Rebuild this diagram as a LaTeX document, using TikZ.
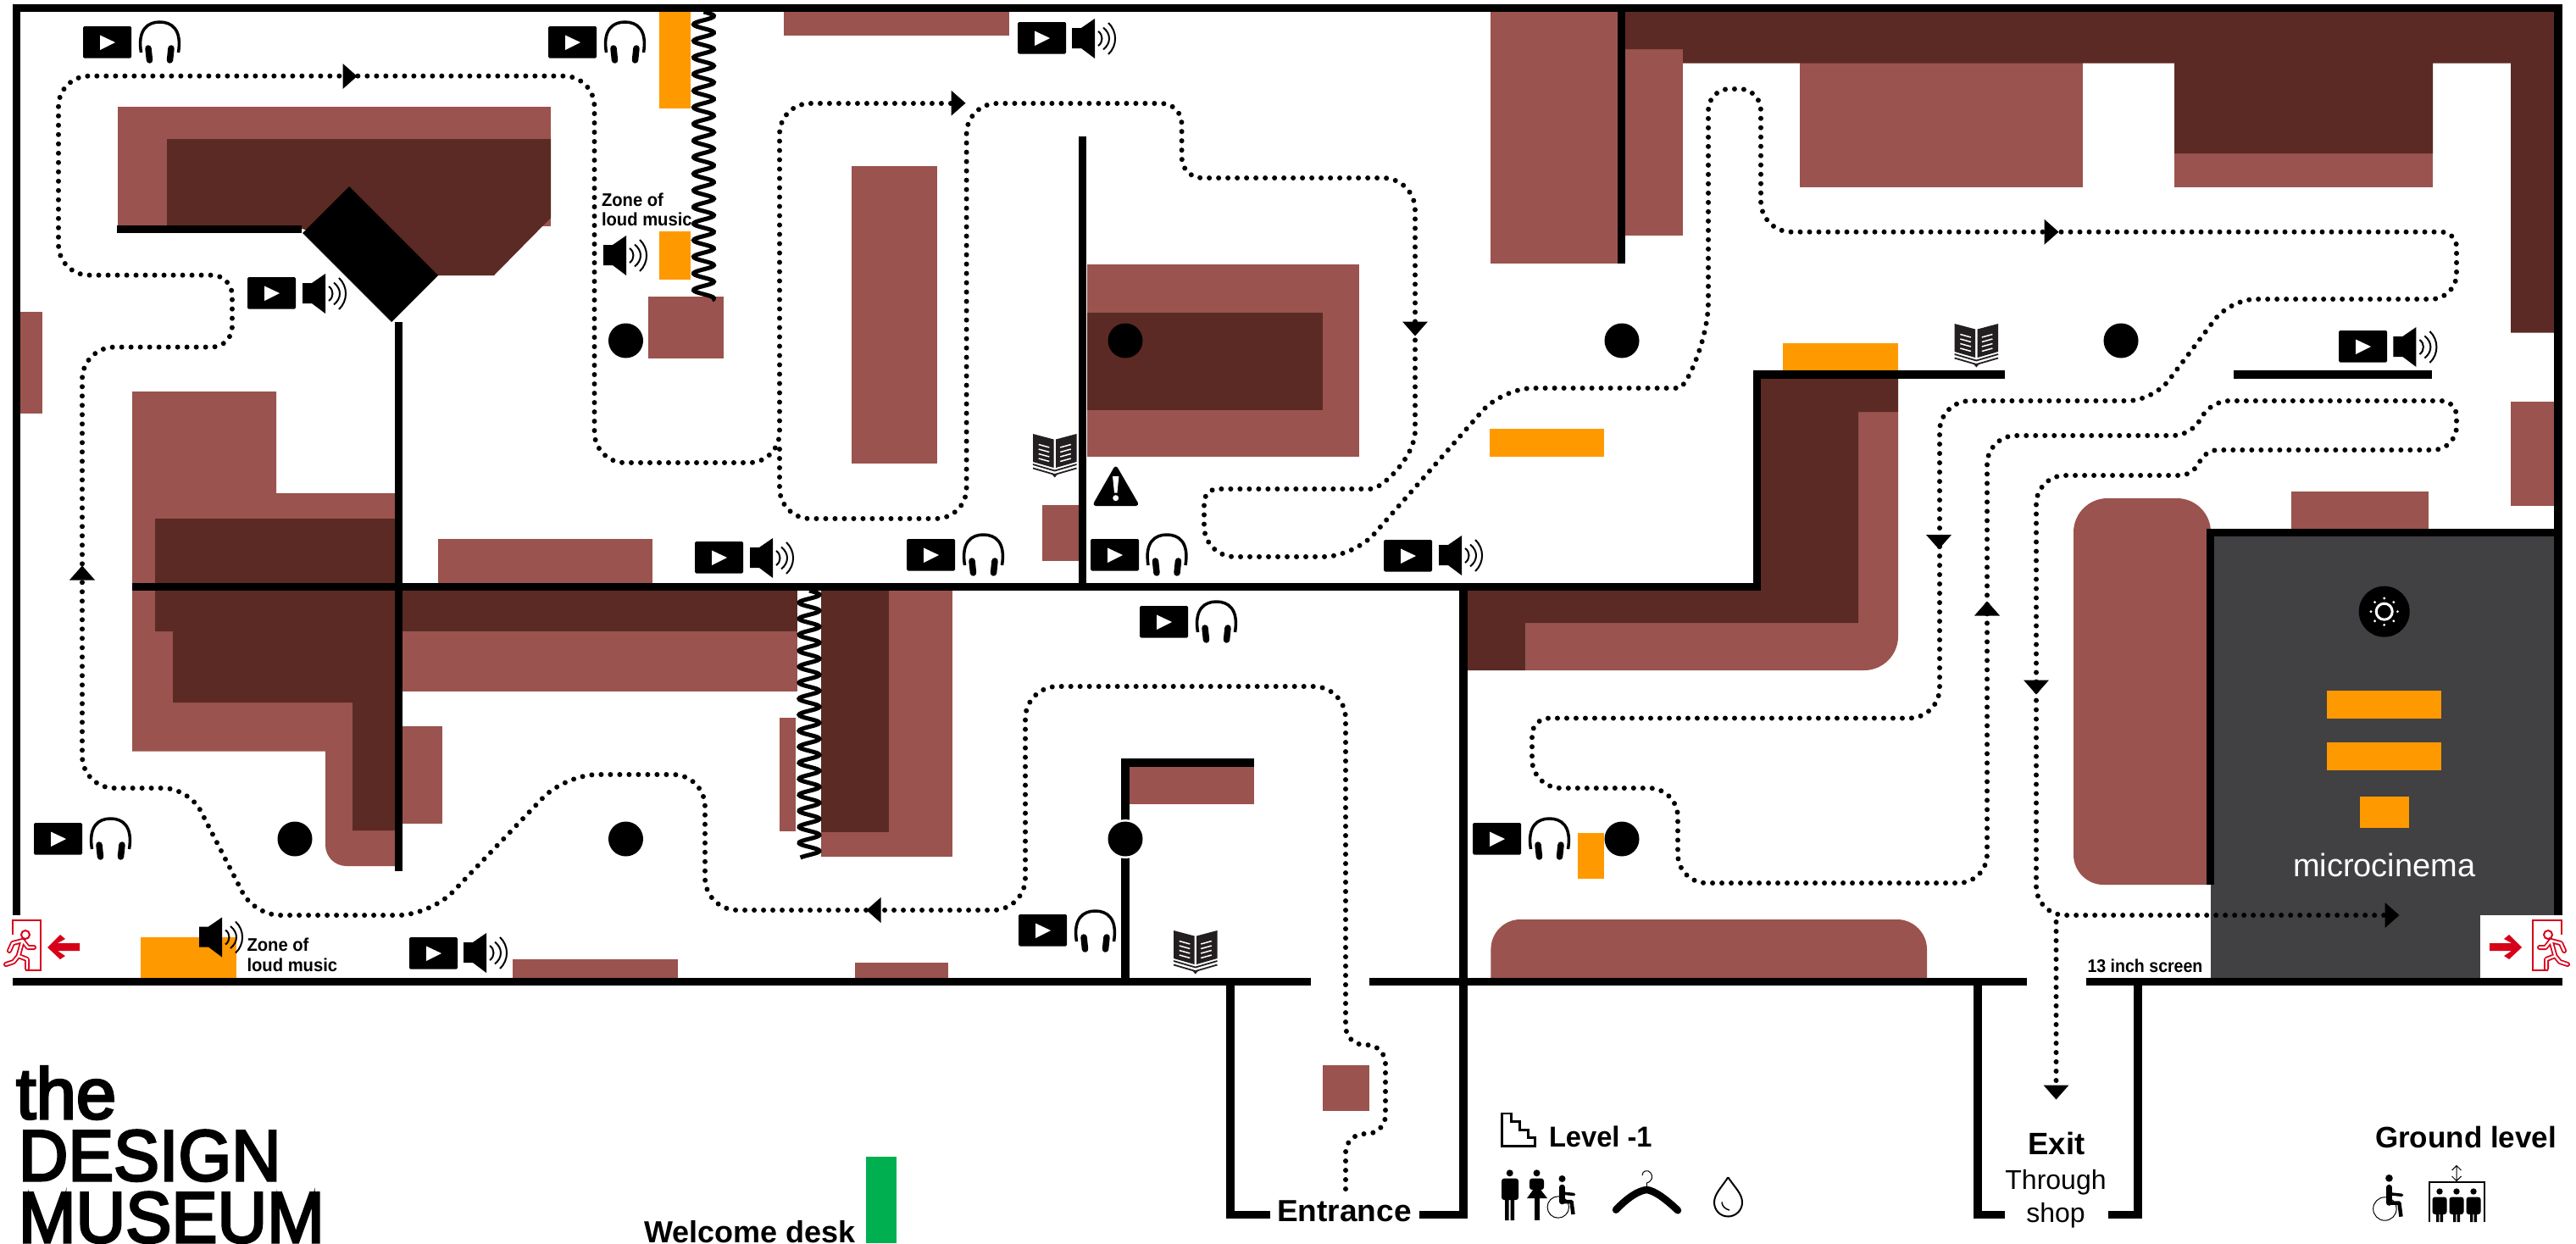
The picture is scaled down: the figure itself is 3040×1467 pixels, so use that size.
\documentclass[tikz,border=0pt]{standalone}
\usepackage{fontspec}
\usepackage{graphicx}
\setmainfont{Liberation Sans}
\newfontfamily\logof[FakeBold=3.5]{Liberation Sans}
\definecolor{lightb}{HTML}{9A534E}
\definecolor{darkb}{HTML}{5C2A24}
\definecolor{orng}{HTML}{FF9900}
\definecolor{roomg}{HTML}{414042}
\definecolor{grn}{HTML}{00B050}
\definecolor{exitr}{HTML}{D7001A}
\definecolor{bookc}{HTML}{231F20}
\newcommand{\hsc}[2]{\scalebox{#1}[1]{#2}}
\newcommand{\fsz}[1]{\fontsize{#1}{#1}\selectfont}
\tikzset{
 wall/.style={line width=9.5pt,line join=miter,line cap=butt},
 route/.style={line width=6pt,line cap=round,dash pattern=on 0pt off 11pt},
 lbl/.style={inner sep=0pt,outer sep=0pt,anchor=base west},
 lblc/.style={inner sep=0pt,outer sep=0pt,anchor=base},
 play/.pic={\fill[rounded corners=1.5pt] (0,0) rectangle (57,37.5);
   \fill[white] (20,10.5) -- (38,19) -- (20,28) -- cycle;},
 phones/.pic={\draw[line width=3.5pt] (3.5,38) .. controls (-1,10) and (12,2) .. (25.5,2) .. controls (39,2) and (52,10) .. (47.5,38);
   \draw[line width=7.5pt,line cap=round] (12,33) -- (13.5,47) (39,33) -- (37.5,47);},
 spk/.pic={\fill (0,11) -- (11,11) -- (27,0) -- (27,47) -- (11,35) -- (0,35) -- cycle;
   \draw[line width=2pt] (31,15) .. controls (37,19) and (37,28) .. (31,32)
     (37,10.5) .. controls (46.3,18) and (46.3,29) .. (37,36.5)
     (43,5) .. controls (53.7,15) and (53.7,32) .. (43,42);},
 tip/.pic={\fill (-8.5,-15) -- (8.5,0) -- (-8.5,15) -- cycle;},
 bookicon/.pic={\fill[bookc] (0,0) -- (24.5,6.5) -- (24.5,40) -- (0,33) -- cycle (27,6.5) -- (51.5,0) -- (51.5,33) -- (27,40) -- cycle;
   \draw[bookc,line width=1.8pt] (0,36) -- (25.7,43.5) -- (51.5,36) (0,40.5) -- (25.7,48) -- (51.5,40.5);
   \fill[bookc] (22,47) -- (25.7,51.5) -- (29.5,47) -- cycle;
   \draw[white,line width=1.5pt] (6.7,12.5) -- (19.3,16) (6.7,18) -- (19.3,21.5) (6.7,23.5) -- (19.3,27) (6.7,29) -- (19.3,32.5)
     (32.2,16) -- (44.8,12.5) (32.2,21.5) -- (44.8,18) (32.2,27) -- (44.8,23.5) (32.2,32.5) -- (44.8,29);},
 chair/.pic={\fill (18,4) circle[radius=4];
   \draw[line width=6.5pt,line cap=round] (18,14) -- (18,31);
   \draw[line width=4.5pt,line join=round] (18,31) -- (29,31) -- (31,46);
   \draw[line width=3.5pt,line cap=round] (18,21) -- (32,22.5);
   \draw[line width=1pt] (13.3,37.5) circle[radius=12.7];},
 exitman/.pic={\draw[exitr,line width=2pt] (14.5,28) -- (14.5,11) -- (48,11) -- (48,70) -- (30,70);
   \draw[exitr,line width=2pt] (30,28) circle[radius=5];
   \draw[exitr,line width=6pt,line cap=round,line join=round] (26.7,35) -- (21.7,53) (26.7,35) -- (15,38) -- (11,47) (26.7,35) -- (33,43) -- (40,43) (21.7,53) -- (32,57) -- (32,68) (21.7,53) -- (16,60) -- (7,63);
   \draw[white,line width=2.4pt,line cap=round,line join=round] (26.7,35) -- (21.7,53) (26.7,35) -- (15,38) -- (11,47) (26.7,35) -- (33,43) -- (40,43) (21.7,53) -- (32,57) -- (32,68) (21.7,53) -- (16,60) -- (7,63);},
 exitarrow/.pic={\fill[exitr] (0,0) -- (15,-15) -- (21,-10) -- (12,-5) -- (38,-5) -- (38,4) -- (12,4) -- (21,10) -- (15,14) -- cycle;},
}
\begin{document}
\begin{tikzpicture}[x=1pt,y=-1pt]
\useasboundingbox (0,0) rectangle (3040,1467);
\fill[white] (0,0) rectangle (3040,1467);
% --- gray room
\fill[roomg] (2609,629) rectangle (3016,1154);
\fill[white] (2927,1080) rectangle (3024,1153.5);
% --- light furniture
\fill[lightb] (139,126) rectangle (650,267);
\fill[lightb] (925,14) rectangle (1191,42);
\fill[lightb] (24,368) rectangle (50,488);
\fill[lightb] (156,462) -- (326,462) -- (326,582) -- (466,582) -- (466,1022) -- (409,1022) .. controls (395,1022) and (384,1011) .. (384,997) -- (384,886.5) -- (156,886.5) -- cycle;
\fill[lightb] (517,636) rectangle (770,688);
\fill[lightb] (475,745) rectangle (941,815.5);
\fill[lightb] (475,857) rectangle (522,972);
\fill[lightb] (920,847) rectangle (939,981);
\fill[lightb] (969,697) rectangle (1124,1010.6);
\fill[lightb] (765,350) rectangle (854,423);
\fill[lightb] (1004.6,196) rectangle (1106,546.5);
\fill[lightb] (1229.5,596) rectangle (1272.6,661.6);
\fill[lightb] (1282.5,312) rectangle (1603.6,538.5);
\fill[lightb] (1759,14) rectangle (1909,310.5);
\fill[lightb] (1918,58) rectangle (1986,278);
\fill[lightb] (2123.5,74) rectangle (2458,221);
\fill[lightb] (2566,181) rectangle (2871,221);
\fill[lightb] (2963,474) rectangle (3014.5,596.5);
\fill[lightb] (2704,580) rectangle (2866,624);
\fill[lightb] (605,1132) rectangle (800,1154);
\fill[lightb] (1009,1136) rectangle (1119,1154);
\fill[lightb] (1333,905) rectangle (1479.5,948.6);
\fill[lightb] (1560.5,1257) rectangle (1615.5,1311);
\fill[lightb] (2193,486) -- (2240,486) -- (2240,751) .. controls (2240,773) and (2222,791) .. (2200,791) -- (1800.5,791) -- (1800.5,735) -- (2193,735) -- cycle;
\fill[lightb] (2447,628) .. controls (2447,606) and (2465,588) .. (2487,588) -- (2569,588) .. controls (2591,588) and (2609,606) .. (2609,628) -- (2609,1044) -- (2482,1044) .. controls (2463,1044) and (2447,1028) .. (2447,1009) -- cycle;
\fill[lightb] (1759.4,1154) -- (1759.4,1120) .. controls (1759.4,1101) and (1775,1085) .. (1794,1085) -- (2239,1085) .. controls (2258,1085) and (2274,1101) .. (2274,1120) -- (2274,1154) -- cycle;
% --- dark furniture
\fill[darkb] (197,164) -- (650,164) -- (650,257) -- (583,325) -- (517,325) -- (357,270) -- (197,270) -- cycle;
\fill[darkb] (183,612) -- (466,612) -- (466,980) -- (416,980) -- (416,829) -- (204,829) -- (204,745) -- (183,745) -- cycle;
\fill[darkb] (475,697) rectangle (941,745);
\fill[darkb] (969,697) rectangle (1049,982);
\fill[darkb] (1282.5,369) rectangle (1560.5,484);
\fill[darkb] (1918,14) -- (3014.5,14) -- (3014.5,392.6) -- (2963,392.6) -- (2963,74.6) -- (2871,74.6) -- (2871,181) -- (2566,181) -- (2566,74.6) -- (1986,74.6) -- (1986,58) -- (1918,58) -- cycle;
\fill[darkb] (1731,697) -- (2078,697) -- (2078,446) -- (2240,446) -- (2240,486) -- (2193,486) -- (2193,735) -- (1800.5,735) -- (1800.5,791) -- (1731,791) -- cycle;
% --- orange and green
\fill[orng] (778,14) rectangle (815,128);
\fill[orng] (778,273) rectangle (815,330);
\fill[orng] (166,1106) rectangle (279,1154);
\fill[orng] (1758,506) rectangle (1893,538.5);
\fill[orng] (2104.4,405) rectangle (2240,437.5);
\fill[orng] (1862,983) rectangle (1893.4,1036.5);
\fill[orng] (2746,815) rectangle (2881,847.5);
\fill[orng] (2746,876) rectangle (2881,909);
\fill[orng] (2785,940) rectangle (2843,977);
\fill[grn] (1022,1365) rectangle (1058,1467);
% --- walls
\fill (412,220) -- (517,325) -- (462,380) -- (357,275) -- cycle;
\draw[wall] (19.5,1080) -- (19.5,9.5) -- (3019,9.5) -- (3019,1080);
\draw[wall] (15,1158.5) -- (1547,1158.5);
\draw[wall] (1615.5,1158.5) -- (2392,1158.5);
\draw[wall] (2462,1158.5) -- (3024,1158.5);
\draw[wall] (156,692.5) -- (2073.5,692.5) -- (2073.5,442) -- (2366,442);
\draw[wall] (2636,442) -- (2870,442);
\draw[wall] (138,270.5) -- (356,270.5);
\draw[wall] (470.5,380) -- (470.5,1028);
\draw[wall] (1277.5,161) -- (1277.5,692);
\draw[wall] (1913.5,14) -- (1913.5,310.5);
\draw[wall] (2608.5,1044) -- (2608.5,628.5) -- (3014,628.5);
\draw[wall] (1479.5,900) -- (1328,900) -- (1328,1154);
\draw[wall] (1499,1433.5) -- (1452,1433.5) -- (1452,1154);
\draw[wall] (1675,1433.5) -- (1727,1433.5) -- (1727,692);
\draw[wall] (2366,1433.5) -- (2334,1433.5) -- (2334,1154);
\draw[wall] (2488,1433.5) -- (2523,1433.5) -- (2523,1154);
% --- coils
\draw[line width=5pt] plot[domain=14:354,samples=300,smooth] ({830.5+12*sin((\x-14)/19.6*360)},\x);
\draw[line width=5pt] plot[domain=697:1012,samples=300,smooth] ({955+12*sin((\x-697)/18.9*360)},\x);
% --- columns
\fill[white] (1328,990) circle[radius=23];
\foreach \p in {(738.5,402),(1328,402),(1914,402),(2503,402),(348,990),(738.5,990),(1328,990),(1914,990)} \fill \p circle[radius=20.5];
% --- route
\draw[route,rounded corners=22pt] (1588,1403) -- (1588,1338) -- (1635,1338) -- (1635,1233) -- (1588,1233) [rounded corners=38pt] -- (1588,810) -- (1210,810) -- (1210,1074) -- (832,1074) -- (832,914) -- (667,914) -- (508,1080) [rounded corners=30pt] -- (300,1080) -- (223,930) [rounded corners=38pt] -- (97,930) -- (97,409.6) [rounded corners=24pt] -- (274,409.6) -- (274,324.7) [rounded corners=36pt] -- (69,324.7) -- (69,89.7) -- (701.5,89.7) -- (701.5,546) -- (920,546) -- (920,122) -- (1126,122);
\draw[route,rounded corners=36pt] (920,530) -- (920,612) -- (1140.6,612) -- (1140.6,122) [rounded corners=24pt] -- (1394.6,122) -- (1394.6,210) [rounded corners=38pt] -- (1670,210) -- (1670,470) .. controls (1670,540) and (1630,577) .. (1580,577) [rounded corners=16pt] -- (1421,577) [rounded corners=36pt] -- (1421,657) -- (1598,657) -- (1773,458) -- (1945,458) .. controls (1990,458) and (2016,400) .. (2016,320) [rounded corners=25pt] -- (2016,105) -- (2078,105) [rounded corners=36pt] -- (2078,273.7) [rounded corners=18pt] -- (2899,273.7) [rounded corners=30pt] -- (2899,353) -- (2632,353) -- (2541,473) [rounded corners=36pt] -- (2289,473) -- (2289,847.5) [rounded corners=20pt] -- (1808,847.5) [rounded corners=34pt] -- (1808,930) -- (1980,930) -- (1980,1042) -- (2345,1042) -- (2345,514) [rounded corners=20pt] -- (2585,514) -- (2610,473) [rounded corners=18pt] -- (2899,473) [rounded corners=28pt] -- (2899,531) [rounded corners=12pt] -- (2605,531) -- (2585,561) [rounded corners=34pt] -- (2403,561) -- (2403,1080) -- (2815,1080);
\draw[route] (2426.5,1088) -- (2426.5,1280);
\pic[rotate=0] at (413,90) {tip};
\pic[rotate=0] at (1131,121.7) {tip};
\pic[rotate=0] at (2421,273.7) {tip};
\pic[rotate=0] at (2823,1080) {tip};
\pic[rotate=180] at (1031,1074) {tip};
\pic[rotate=90] at (97,676) {tip};
\pic[rotate=90] at (2345,718) {tip};
\pic[rotate=-90] at (1670,388) {tip};
\pic[rotate=-90] at (2288,639.5) {tip};
\pic[rotate=-90] at (2403,811) {tip};
\pic[rotate=-90] at (2426.5,1289) {tip};
% --- media icons
\foreach \a/\b/\c/\d in {98/31/163/24,647/31/712/24,1070/636/1135/629,1287/636/1351.5/629,1345/715/1410/708,40/971/105/964,1738/971/1803/964,1202/1079/1267/1073}
 {\pic at (\a,\b) {play}; \pic at (\c,\d) {phones};}
\foreach \a/\b/\c/\d in {292/327/357/323,820/639/885/635,1201/26/1265/22,1633/637/1698/632,2760/390/2824.4/386,483/1106/547/1101}
 {\pic at (\a,\b) {play}; \pic at (\c,\d) {spk};}
\pic at (712,278) {spk};
\pic at (235,1082.5) {spk};
\pic at (1219,512) {bookicon};
\pic at (2306.6,382) {bookicon};
\pic at (1385,1098) {bookicon};
% --- warning
\fill[line join=round,draw=black,line width=5pt] (1316.7,553) -- (1293,594.5) -- (1340.7,594.5) -- cycle;
\fill[white] (1313,562) -- (1320.4,562) -- (1318.5,581.5) -- (1315,581.5) -- cycle (1316.7,587.7) circle[radius=3.5];
% --- sun
\fill (2813.7,721.7) circle[radius=30];
\draw[white,line width=3pt] (2813.7,721.7) circle[radius=9.5];
\foreach \t in {0,45,...,315} \fill[white] ({2813.7+15.7*cos(\t)},{721.7+15.7*sin(\t)}) circle[radius=1.6];
% --- exit signs
\pic at (0,1075) {exitman};
\pic[xscale=-1] at (3037,1075) {exitman};
\pic at (56,1118) {exitarrow};
\pic[xscale=-1] at (2976,1118) {exitarrow};
% --- legend icons
\draw[line width=2.5pt,line join=miter] (1772.3,1314) -- (1783.3,1314) -- (1783.3,1323.3) -- (1793.3,1323.3) -- (1793.3,1333.3) -- (1803.3,1333.3) -- (1803.3,1342.7) -- (1811.7,1342.7) -- (1811.7,1352.3) -- (1772.3,1352.3) -- cycle;
% man
\fill (1781.7,1384.3) circle[radius=4];
\fill[rounded corners=3pt] (1772,1390.7) rectangle (1792,1416);
\fill (1776,1414) rectangle (1780.7,1440) (1782.7,1414) rectangle (1787,1440);
% woman
\fill (1813.5,1384.3) circle[radius=4];
\fill[rounded corners=3pt] (1805,1390.7) rectangle (1822,1404);
\fill (1813.5,1398) -- (1802,1414) -- (1826,1414) -- cycle;
\fill (1811,1412) rectangle (1816.7,1440);
% wheelchair
\pic at (1825.5,1387) {chair};
\pic[scale=1.08] at (2800,1386) {chair};
% hanger
\draw[line width=1pt] (1943.3,1402) -- (1943.3,1396) .. controls (1950,1394) and (1951,1388) .. (1948,1384) .. controls (1945,1380) and (1938,1381) .. (1938,1387);
\draw[line width=8.5pt,line cap=round] (1907,1427.7) .. controls (1920,1414) and (1933,1405) .. (1943.3,1404) .. controls (1953,1405) and (1967,1416) .. (1980,1428.3);
% drop
\draw[line width=2pt] (2039.3,1389.3) .. controls (2031,1402) and (2023,1409) .. (2023,1419) .. controls (2023,1428) and (2030,1435.5) .. (2039.3,1435.5) .. controls (2048.5,1435.5) and (2056,1428) .. (2056,1419) .. controls (2056,1409) and (2048,1402) .. (2039.3,1389.3);
\draw[line width=1.5pt] (2032,1418.5) .. controls (2032,1423) and (2036,1427) .. (2041,1428);
% lift
\draw[line width=2pt] (2866.5,1442) -- (2866.5,1394.5) -- (2931.5,1394.5) -- (2931.5,1442);
\draw[line width=1pt] (2899,1376) -- (2899,1393) (2893.5,1381) -- (2899,1375.5) -- (2904.5,1381) (2893.5,1388) -- (2899,1393.5) -- (2904.5,1388);
\foreach \m in {2879,2899,2919}{
 \fill (\m,1406) circle[radius=3.7];
 \fill[rounded corners=3pt] ({\m-8.5},1412.5) rectangle ({\m+8.5},1433);
 \fill ({\m-4},1431) rectangle ({\m-0.7},1442) ({\m+0.7},1431) rectangle ({\m+4},1442);}
% --- text
\node[lbl] (zoneA) at (710,243) {\bfseries\fsz{21.5}\hsc{.94}{Zone of}};
\node[lbl] (zoneB) at (710,266.6) {\bfseries\fsz{21.5}\hsc{.94}{loud music}};
\node[lbl] (zoneC) at (291.5,1122.5) {\bfseries\fsz{21.5}\hsc{.94}{Zone of}};
\node[lbl] (zoneD) at (291.5,1146) {\bfseries\fsz{21.5}\hsc{.94}{loud music}};
\node[lbl] (screen) at (2463.5,1147) {\bfseries\fsz{21.5}\hsc{.91}{13 inch screen}};
\node[lblc,white] (micro) at (2813.7,1034.6) {\fsz{38}microcinema};
\node[lblc] (exit) at (2427,1362) {\bfseries\fsz{36.5}Exit};
\node[lblc] (through) at (2426,1403) {\fsz{32}Through};
\node[lblc] (shop) at (2426,1442) {\fsz{32}shop};
\node[lbl] (entr) at (1507,1441) {\bfseries\fsz{36}\hsc{1.03}{Entrance}};
\node[lbl] (lvl) at (1828,1353.5) {\bfseries\fsz{34}\hsc{.96}{Level -1}};
\node[lbl] (ground) at (2803,1354) {\bfseries\fsz{35}Ground level};
\node[lbl] (desk) at (760,1466) {\bfseries\fsz{36}Welcome desk};
\node[lbl] (lgA) at (19,1320) {\logof\fsz{85}the};
\node[lbl] (lgB) at (22,1393) {\logof\fsz{85}\hsc{.95}{DESIGN}};
\node[lbl] (lgC) at (22,1466) {\logof\fsz{85}\hsc{.955}{MUSEUM}};
\end{tikzpicture}
\end{document}
